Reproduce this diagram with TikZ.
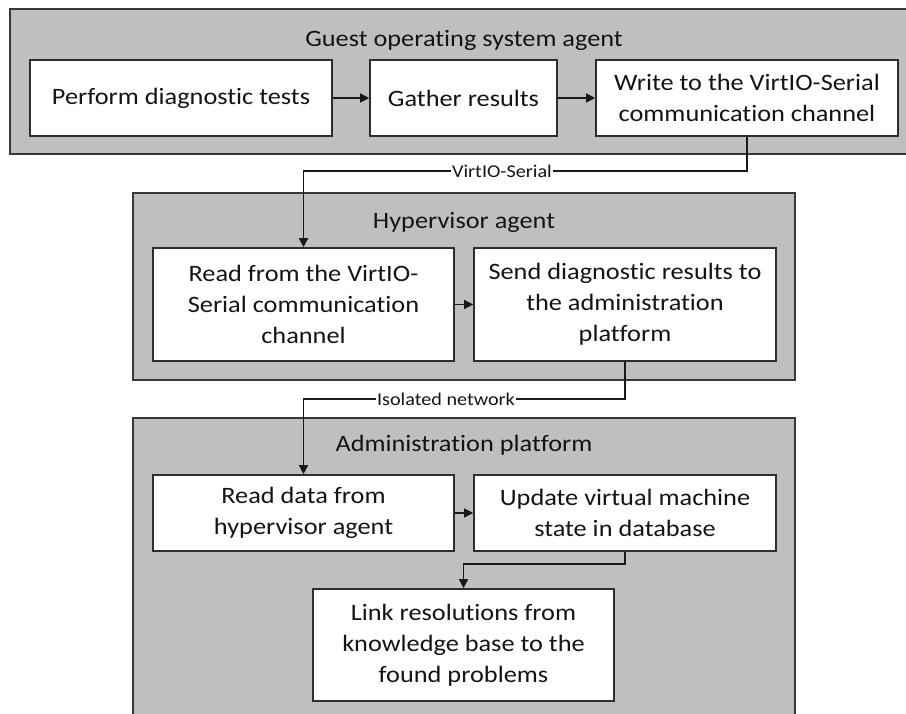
\documentclass[tikz,border=0pt]{standalone}
\usepackage{fontspec}
\setmainfont{Carlito}[FakeStretch=1.12, Ligatures=NoCommon]
\usetikzlibrary{arrows.meta,shadows}
\begin{document}
\begin{tikzpicture}[x=1pt,y=-1pt,
  panel/.style={draw=black!78, line width=1.6pt, fill=black!25, inner sep=0pt},
  stepbox/.style={draw=black!82, line width=1.6pt, fill=white, align=center,
    inner sep=0pt, font=\fontsize{23.5}{31}\selectfont, text=black!92,
    drop shadow={shadow xshift=1pt, shadow yshift=-1pt, fill=black, opacity=0.35}},
  title/.style={font=\fontsize{23.5}{28}\selectfont, text=black!92},
  lbl/.style={fill=white, inner sep=1pt, font=\fontsize{18}{20}\selectfont, text=black!92},
  conn/.style={line width=1.4pt, draw=black!90, -{Triangle[length=9pt,width=9pt]}},
]
\clip (0,0) rectangle (906,714);
\fill[white] (0,0) rectangle (906,714);

% ---- panels ----
\node[panel, minimum width=920pt, minimum height=145pt] (guest) at (470,81.5) {};
\node[panel, minimum width=662pt, minimum height=187pt] (hyper) at (464,286.5) {};
\node[panel, minimum width=662pt, minimum height=330pt] (admin) at (464,583) {};

\node[title] (guesttitle) at (464,40) {Guest operating system agent};
\node[title] (hypertitle) at (464,222) {Hypervisor agent};
\node[title] (admintitle) at (464,445) {Administration platform};

% ---- guest agent steps ----
\node[stepbox, minimum width=302pt, minimum height=76pt] (perform) at (181,98) {Perform diagnostic tests};
\node[stepbox, minimum width=187pt, minimum height=76pt] (gather) at (463.5,98) {Gather results};
\node[stepbox, minimum width=302pt, minimum height=76pt] (write) at (747,98) {Write to the VirtIO-Serial\\communication channel};

% ---- hypervisor steps ----
\node[stepbox, minimum width=301pt, minimum height=113pt] (readch) at (303.5,304.5) {Read from the VirtIO-\\Serial communication\\channel};
\node[stepbox, minimum width=302pt, minimum height=113pt] (send) at (625,304.5) {Send diagnostic results to\\the administration\\platform};

% ---- administration steps ----
\node[stepbox, minimum width=301pt, minimum height=76pt] (readdata) at (303.5,513) {Read data from\\hypervisor agent};
\node[stepbox, minimum width=302pt, minimum height=76pt] (update) at (625,513) {Update virtual machine\\state in database};
\node[stepbox, minimum width=301pt, minimum height=112pt] (link) at (463.5,645) {Link resolutions from\\knowledge base to the\\found problems};

% ---- connectors ----
\draw[conn] (perform) -- (gather);
\draw[conn] (gather) -- (write);
\draw[conn] (readch) -- (send);
\draw[conn] (readdata) -- (update);

\coordinate (bendA) at (747,171);
\coordinate (bendB) at (625,399);
\coordinate (bendC) at (625,564);
\draw[conn] (write.south) -- (bendA) -| (readch.north);
\draw[conn] (send.south) -- (bendB) -| (readdata.north);
\draw[conn] (update.south) -- (bendC) -| (link.north);

\node[lbl] (serial) at (502,171) {VirtIO-Serial};
\node[lbl] (isolated) at (446,399) {Isolated network};
\end{tikzpicture}
\end{document}
